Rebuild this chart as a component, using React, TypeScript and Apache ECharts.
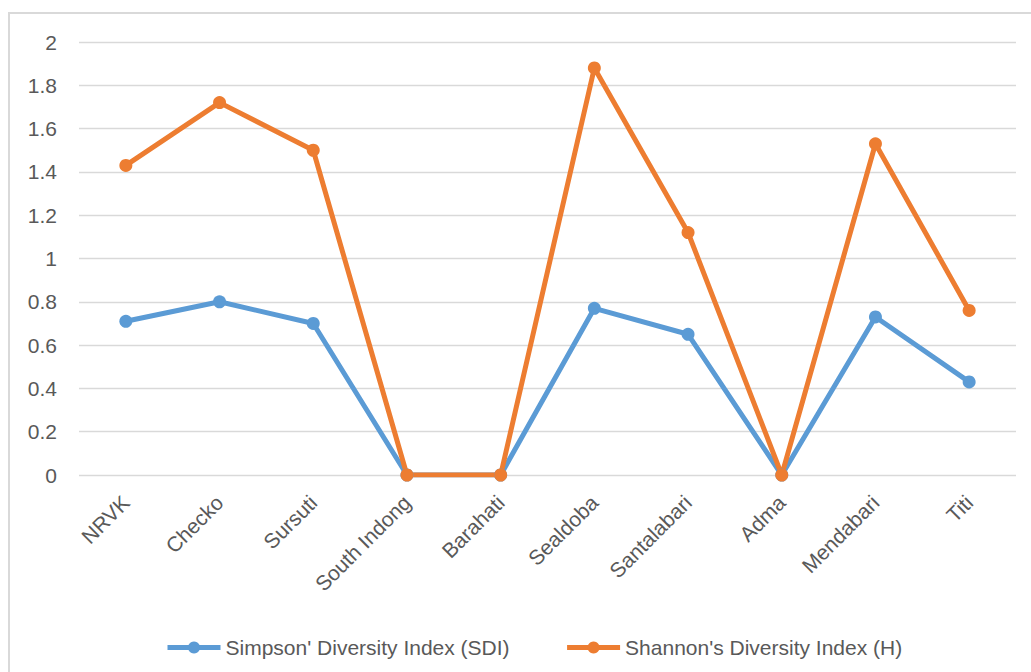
import React, { useEffect, useRef } from "react";
import * as echarts from "echarts";

const categories = ["NRVK", "Checko", "Sursuti", "South Indong", "Barahati", "Sealdoba", "Santalabari", "Adma", "Mendabari", "Titi"];
const sdi = [0.71, 0.8, 0.7, 0, 0, 0.77, 0.65, 0, 0.73, 0.43];
const shannon = [1.43, 1.72, 1.5, 0, 0, 1.88, 1.12, 0, 1.53, 0.76];
const seriesNames = ["Simpson' Diversity Index (SDI)", "Shannon's Diversity Index (H)"];
const yTicks = [0, 0.2, 0.4, 0.6, 0.8, 1, 1.2, 1.4, 1.6, 1.8, 2];

const FONT = "'Liberation Sans', 'DejaVu Sans', sans-serif";
const LABEL = "#595959";

export default function App() {
  const ref = useRef<HTMLDivElement>(null);
  useEffect(() => {
    if (!ref.current) return;
    const chart = echarts.init(ref.current, null, { renderer: "svg" });
    chart.setOption({
      animation: false,
      backgroundColor: "transparent",
      textStyle: { fontFamily: FONT },
      grid: { left: 79, right: 15, top: 42, bottom: 197, containLabel: false },
      legend: {
        top: 632,
        left: 160,
        itemWidth: 53,
        itemHeight: 15,
        itemGap: 55,
        lineStyle: { width: 5 },
        textStyle: { color: LABEL, fontSize: 21, fontFamily: FONT },
        data: seriesNames,
      },
      xAxis: {
        type: "category",
        data: categories,
        boundaryGap: true,
        axisLine: { show: false },
        axisTick: { show: false },
        axisLabel: { rotate: 45, color: LABEL, fontSize: 21, margin: 24, interval: 0 },
      },
      yAxis: {
        type: "value",
        min: yTicks[0],
        max: yTicks[yTicks.length - 1],
        interval: 0.2,
        axisLine: { show: false },
        axisTick: { show: false },
        splitLine: { lineStyle: { color: "#d9d9d9", width: 1.3 } },
        axisLabel: {
          color: LABEL,
          fontSize: 21,
          margin: 22,
          formatter: (v: number) => String(Math.round(v * 10) / 10),
        },
      },
      series: [
        {
          name: seriesNames[0],
          type: "line",
          data: sdi,
          symbol: "circle",
          symbolSize: 13,
          lineStyle: { color: "#5B9BD5", width: 5 },
          itemStyle: { color: "#5B9BD5" },
        },
        {
          name: seriesNames[1],
          type: "line",
          data: shannon,
          symbol: "circle",
          symbolSize: 13,
          lineStyle: { color: "#ED7D31", width: 5 },
          itemStyle: { color: "#ED7D31" },
        },
      ],
    });
    return () => chart.dispose();
  }, []);
  return (
    <div style={{ position: "fixed", left: 0, top: 0, width: 1031, height: 672, background: "#fff", overflow: "hidden" }}>
      <div
        style={{
          position: "absolute",
          left: 8,
          top: 12,
          width: 1040,
          height: 700,
          border: "2px solid #d9d9d9",
          boxSizing: "border-box",
        }}
      />
      <div ref={ref} style={{ position: "absolute", left: 0, top: 0, width: 1031, height: 672 }} />
    </div>
  );
}
